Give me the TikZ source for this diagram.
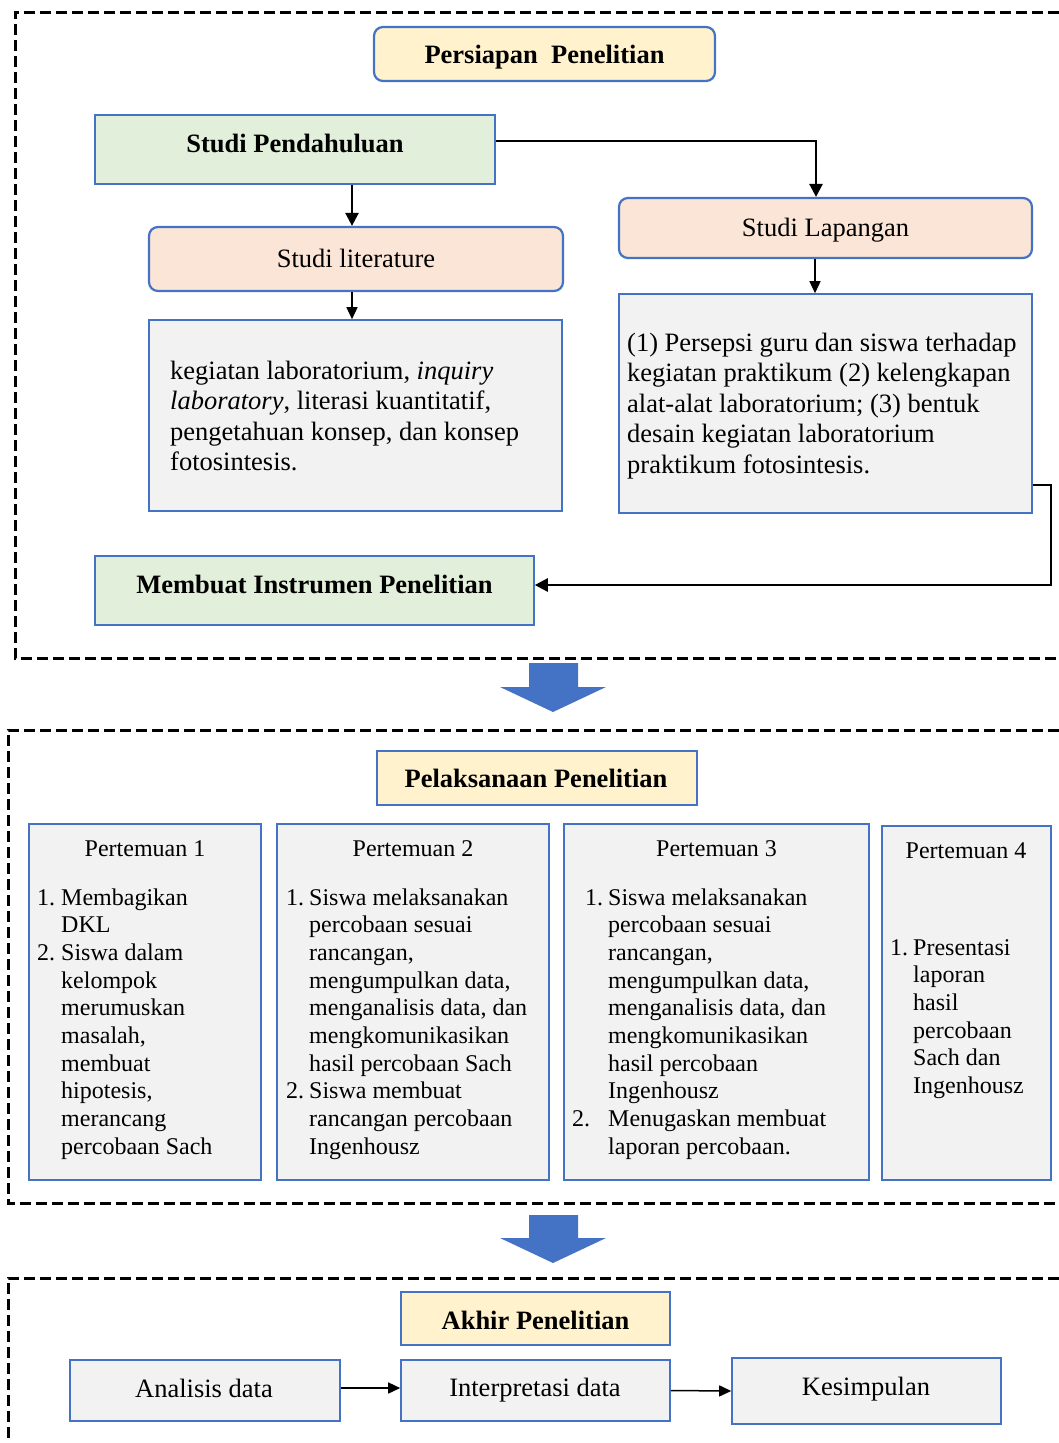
\documentclass[tikz,border=0pt]{standalone}
\usepackage{fontspec}
\setmainfont{Liberation Serif}
\usetikzlibrary{arrows.meta}
\definecolor{bblue}{HTML}{4472C4}
\definecolor{fyel}{HTML}{FFF2CC}
\definecolor{fgrn}{HTML}{E2EFDA}
\definecolor{fpch}{HTML}{FBE5D6}
\definecolor{fgry}{HTML}{F2F2F2}
\newcommand{\numbox}[2][24pt]{\makebox[#1][l]{#2}}
\newcommand{\contind}[1][24pt]{\hspace*{#1}}
\begin{document}
\begin{tikzpicture}[x=1pt,y=-1pt,
  box/.style={draw=bblue, line width=1.6pt, inner sep=0pt},
  rbox/.style={box, rounded corners=9pt, line width=2.2pt},
  tbig/.style={font=\fontsize{26.5}{30.5}\selectfont, inner sep=0pt, align=left},
  tbold/.style={font=\fontsize{26.5}{30.5}\selectfont\bfseries, inner sep=0pt},
  tsmall/.style={font=\fontsize{24}{27.7}\selectfont, inner sep=0pt},
  dashbox/.style={draw=black, line width=3pt, dash pattern=on 11pt off 5pt},
  conn/.style={line width=2.5pt, -{Triangle[length=13pt,width=13pt]}},
  connthin/.style={line width=1.5pt, -{Triangle[length=12pt,width=11pt]}},
  bigarrow/.style={fill=bblue}]
\clip (0,0) rectangle (1059,1443);

% dashed section frames
\draw[dashbox] (1075,12) -- (15,12) -- (15,658) -- (1075,658);
\draw[dashbox] (1075,730) -- (8,730) -- (8,1203) -- (1075,1203);
\draw[dashbox] (1075,1278) -- (8,1278) -- (8,1460);

% ---------- Persiapan ----------
\node[rbox, fill=fyel, minimum width=341pt, minimum height=54pt] (pp) at (544.5,54) {};
\node[tbold] (ppt) at (544.5,57) {Persiapan\ \ Penelitian};

\node[box, fill=fgrn, minimum width=400pt, minimum height=69pt] (sp) at (295,149.5) {};
\node[tbold] (spt) at (295,143) {Studi Pendahuluan};

\node[rbox, fill=fpch, minimum width=414pt, minimum height=64pt] (sli) at (356,259) {};
\node[tbig] (slit) at (356,258) {Studi literature};

\node[rbox, fill=fpch, minimum width=413pt, minimum height=60pt] (sla) at (825.5,228) {};
\node[tbig] (slat) at (825.5,230) {Studi Lapangan};

\node[box, fill=fgry, minimum width=413pt, minimum height=191pt] (lit) at (355.5,415.5) {};
\node[tbig, anchor=west] (litt) at (170,416) {kegiatan laboratorium, \textit{inquiry}\\
\textit{laboratory}, literasi kuantitatif,\\
pengetahuan konsep, dan konsep\\
fotosintesis.};

\node[box, fill=fgry, minimum width=413pt, minimum height=219pt] (lap) at (825.5,403.5) {};
\node[tbig, anchor=west] (lapt) at (627,406) {(1) Persepsi guru dan siswa terhadap\\
kegiatan praktikum (2) kelengkapan\\
alat-alat laboratorium; (3) bentuk\\
desain kegiatan laboratorium\\
praktikum fotosintesis.};

\node[box, fill=fgrn, minimum width=439pt, minimum height=69pt] (mi) at (314.5,590.5) {};
\node[tbold] (mit) at (314.5,584) {Membuat Instrumen Penelitian};

\draw[conn] ([xshift=-4pt]sli.north |- sp.south) -- ([xshift=-4pt]sli.north);
\draw[conn] ([yshift=8.5pt]sp.east) -| ([xshift=-9.5pt]sla.north);
\draw[connthin] ([xshift=-4pt]sli.south) -- ([xshift=-4pt]sli.south |- lit.north);
\draw[connthin] ([xshift=-10.5pt]sla.south) -- ([xshift=-10.5pt]sla.south |- lap.north);
\draw[conn] ([yshift=-81.5pt]lap.east) -- ++(18,0) |- ([yshift=5.5pt]mi.east);

% big arrow 1
\fill[bigarrow] (529,663) -- (578,663) -- (578,687) -- (606,687) -- (553,712) -- (500,687) -- (529,687) -- cycle;

% ---------- Pelaksanaan ----------
\node[box, fill=fyel, minimum width=320pt, minimum height=54pt] (pl) at (537,778) {};
\node[tbold] (plt) at (536,778) {Pelaksanaan Penelitian};

\node[box, fill=fgry, minimum width=232pt, minimum height=356pt] (p1) at (145,1002) {};
\node[box, fill=fgry, minimum width=272pt, minimum height=356pt] (p2) at (413,1002) {};
\node[box, fill=fgry, minimum width=305pt, minimum height=356pt] (p3) at (716.5,1002) {};
\node[box, fill=fgry, minimum width=169pt, minimum height=354pt] (p4) at (966.5,1003) {};

\node[tsmall, anchor=base] (p1t) at (145,856) {Pertemuan 1};
\node[tsmall, anchor=base] (p2t) at (413,856) {Pertemuan 2};
\node[tsmall, anchor=base] (p3t) at (716.5,856) {Pertemuan 3};
\node[tsmall, anchor=base] (p4t) at (966,858) {Pertemuan 4};

\node[tsmall, anchor=base west] (p1l) at (37,905) {\begin{tabular}[t]{@{}l@{}}
\numbox{1.}Membagikan\\
\contind DKL\\
\numbox{2.}Siswa dalam\\
\contind kelompok\\
\contind merumuskan\\
\contind masalah,\\
\contind membuat\\
\contind hipotesis,\\
\contind merancang\\
\contind percobaan Sach
\end{tabular}};

\node[tsmall, anchor=base west] (p2l) at (286,905) {\begin{tabular}[t]{@{}l@{}}
\numbox[23pt]{1.}Siswa melaksanakan\\
\contind[23pt]percobaan sesuai\\
\contind[23pt]rancangan,\\
\contind[23pt]mengumpulkan data,\\
\contind[23pt]menganalisis data, dan\\
\contind[23pt]mengkomunikasikan\\
\contind[23pt]hasil percobaan Sach\\
\numbox[23pt]{2.}Siswa membuat\\
\contind[23pt]rancangan percobaan\\
\contind[23pt]Ingenhousz
\end{tabular}};

\node[tsmall, anchor=base west] (p3l) at (572,905) {\begin{tabular}[t]{@{}l@{}}
\hspace*{13pt}\numbox[23pt]{1.}Siswa melaksanakan\\
\contind[36pt]percobaan sesuai\\
\contind[36pt]rancangan,\\
\contind[36pt]mengumpulkan data,\\
\contind[36pt]menganalisis data, dan\\
\contind[36pt]mengkomunikasikan\\
\contind[36pt]hasil percobaan\\
\contind[36pt]Ingenhousz\\
\numbox[36pt]{2.}Menugaskan membuat\\
\contind[36pt]laporan percobaan.
\end{tabular}};

\node[tsmall, anchor=base west] (p4l) at (890,955) {\begin{tabular}[t]{@{}l@{}}
\numbox[23pt]{1.}Presentasi\\
\contind[23pt]laporan\\
\contind[23pt]hasil\\
\contind[23pt]percobaan\\
\contind[23pt]Sach dan\\
\contind[23pt]Ingenhousz
\end{tabular}};

% big arrow 2
\fill[bigarrow] (529,1215) -- (578,1215) -- (578,1238) -- (606,1238) -- (553,1263) -- (500,1238) -- (529,1238) -- cycle;

% ---------- Akhir ----------
\node[box, fill=fyel, minimum width=269pt, minimum height=53pt] (ak) at (535.5,1318.5) {};
\node[tbold] (akt) at (535.5,1320) {Akhir Penelitian};

\node[box, fill=fgry, minimum width=270pt, minimum height=61pt] (an) at (205,1390.5) {};
\node[tbig] (ant) at (204,1388) {Analisis data};
\node[box, fill=fgry, minimum width=269pt, minimum height=61pt] (ip) at (535.5,1390.5) {};
\node[tbig] (ipt) at (535,1390) {Interpretasi data};
\node[box, fill=fgry, minimum width=269pt, minimum height=66pt] (ks) at (866.5,1391) {};
\node[tbig] (kst) at (866,1389) {Kesimpulan};

\draw[connthin] ([yshift=2.5pt]an.east) -- ([yshift=2.5pt]ip.west);
\draw[connthin] (ip.east) -- (ks.west);
\end{tikzpicture}
\end{document}
